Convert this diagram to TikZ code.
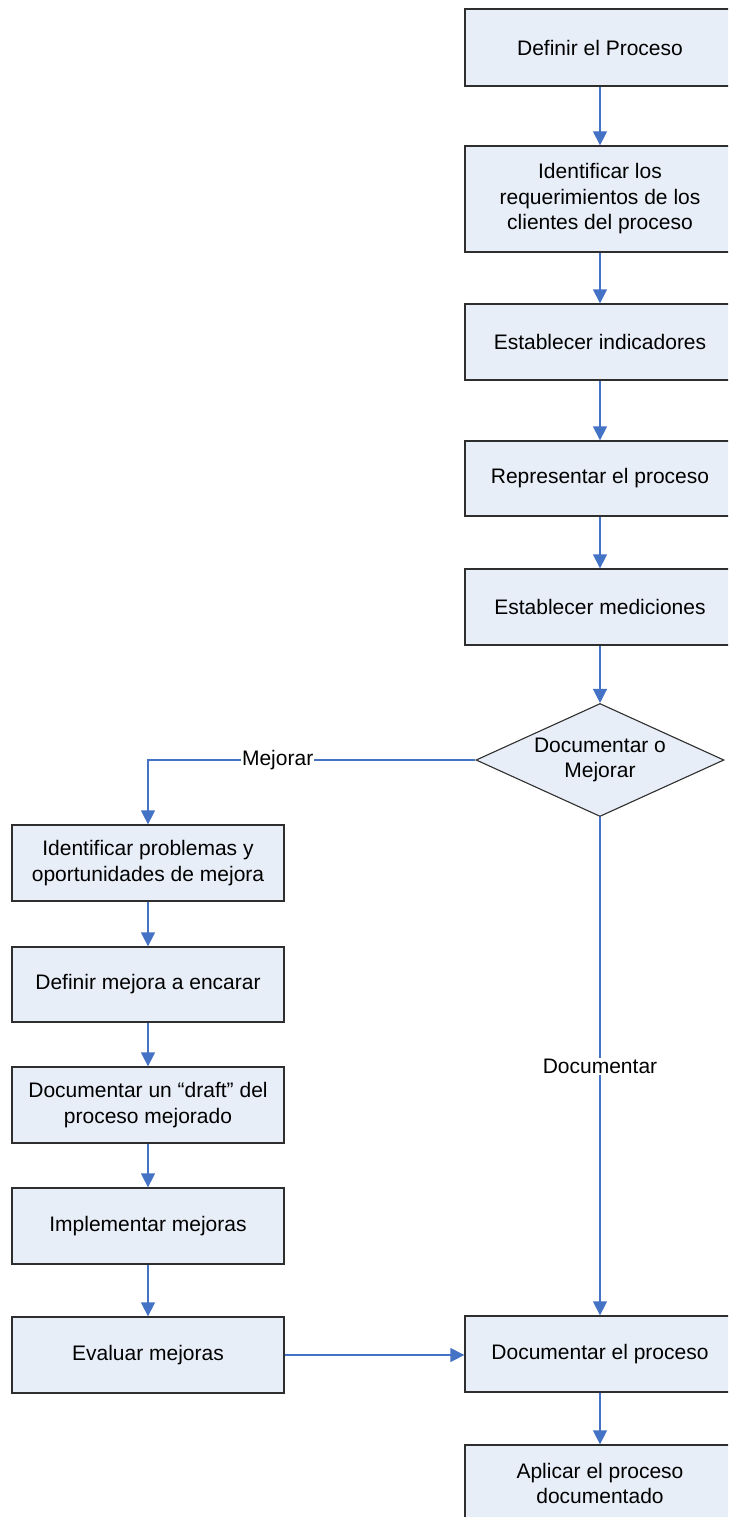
\documentclass[tikz,border=0pt]{standalone}
\usepackage{fontspec}
\setmainfont{Liberation Sans}
\usetikzlibrary{arrows.meta,shapes.geometric}
\definecolor{boxfill}{HTML}{E8EEF8}
\definecolor{boxline}{HTML}{2E2E2E}
\definecolor{flow}{HTML}{4472C4}
\tikzset{
  x=1pt, y=-1pt,
  every node/.style={font=\fontsize{21}{25.5}\selectfont, align=center},
  stepbox/.style={draw=boxline, line width=1.3pt, fill=boxfill, rectangle,
    inner sep=2pt, minimum width=270pt},
  lbox/.style={stepbox, minimum width=272pt},
  decide/.style={draw=boxline, line width=1.1pt, fill=boxfill, diamond,
    aspect=2.2, inner sep=0pt, minimum width=248pt, minimum height=113pt},
  conn/.style={draw=flow, line width=1.3pt,
    -{Triangle[width=14pt,length=14pt]}},
  tag/.style={fill=white, inner sep=1pt}
}
\begin{document}
\begin{tikzpicture}
\useasboundingbox (0,0) rectangle (728,1517);
\begin{scope}
\clip (0,0) rectangle (728,1517);
% main column
\node[stepbox, minimum height=77pt]  (p1) at (600,47.5) {Definir el Proceso};
\node[stepbox, minimum height=106pt] (p2) at (600,199) {Identificar los\\requerimientos de los\\clientes del proceso};
\node[stepbox, minimum height=76pt]  (p3) at (600,342) {Establecer indicadores};
\node[stepbox, minimum height=75pt]  (p4) at (600,478.5) {Representar el proceso};
\node[stepbox, minimum height=76pt]  (p5) at (600,607) {Establecer mediciones};
\node[decide] (dec) at (600,760) {Documentar o\\Mejorar};
\node[stepbox, minimum height=76pt]  (doc) at (600,1354) {Documentar el proceso};
\node[stepbox, minimum height=77pt]  (apl) at (600,1483.5) {Aplicar el proceso\\documentado};
% improvement column
\node[lbox, minimum height=76pt] (l1) at (148,863) {Identificar problemas y\\oportunidades de mejora};
\node[lbox, minimum height=75pt] (l2) at (148,984.5) {Definir mejora a encarar};
\node[lbox, minimum height=76pt] (l3) at (148,1105) {Documentar un “draft” del\\proceso mejorado};
\node[lbox, minimum height=76pt] (l4) at (148,1226) {Implementar mejoras};
\node[lbox, minimum height=76pt] (l5) at (148,1355) {Evaluar mejoras};
\end{scope}
% connectors
\draw[conn] (p1) -- (p2);
\draw[conn] (p2) -- (p3);
\draw[conn] (p3) -- (p4);
\draw[conn] (p4) -- (p5);
\draw[conn] (p5) -- (dec);
\draw[conn] (dec.west) -| node[tag, pos=0.302] {Mejorar} (l1.north);
\draw[conn] (dec.south) -- node[tag, pos=0.5] {Documentar} (doc.north);
\draw[conn] (l1) -- (l2);
\draw[conn] (l2) -- (l3);
\draw[conn] (l3) -- (l4);
\draw[conn] (l4) -- (l5);
\draw[conn] (l5.east) -- (l5.east -| doc.west);
\draw[conn] (doc) -- (apl);
\end{tikzpicture}
\end{document}
